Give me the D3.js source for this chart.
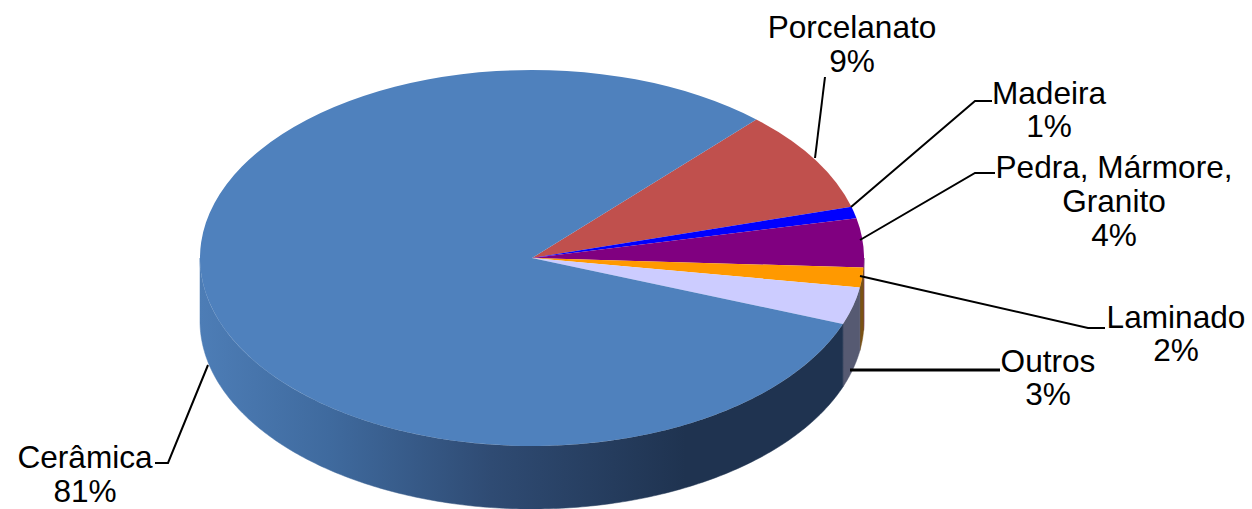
<!DOCTYPE html>
<html><head><meta charset="utf-8">
<script src="https://cdn.jsdelivr.net/npm/d3@7"></script>
<style>html,body{margin:0;padding:0;background:#fff}svg{display:block}</style>
</head><body><svg id="c" width="1252" height="509"></svg>
<script>
const categories = ["Porcelanato","Madeira","Pedra, Mármore, Granito","Laminado","Outros","Cerâmica"];
const values = [8.8,1.0,4.2,1.7,3.2,81.1];
const percentLabels = ["9%","1%","4%","2%","3%","81%"];
const topColors = ["#c0504d","#0000ff","#800080","#ff9900","#ccccff","#4f81bd"];
const wallColors = ["#7d3432","#0000a0","#520052","#7a5214","#565a72","url(#wall)"];
const labelLines = [["Porcelanato"],["Madeira"],["Pedra, Mármore,","Granito"],["Laminado"],["Outros"],["Cerâmica"]];
const labelX = [852,1049,1114,1176,1048,85];
const labelY = [38,104,178,328,372,468];
const lineHeights = [34,33,34,33,33,34];
const leaders = [
 [[815,158],[825,77]],
 [[851,207],[975,101],[992,101]],
 [[860,240],[975,173],[995,173]],
 [[860,276],[1088,328],[1105,328]],
 [[850,370],[1000,370]],
 [[208,365],[168,463],[155,463]]
];
const leaderWidths = [2,2,2,2,3,2];
const cx=532, cy=258, rx=332, ry=188, depth=63, startDeg=42.5, fontSize=31.6;

const svg=d3.select("#c");
const grad=svg.append("defs").append("linearGradient").attr("id","wall")
  .attr("gradientUnits","userSpaceOnUse").attr("x1",cx-rx).attr("x2",cx+rx*0.95).attr("y1",0).attr("y2",0);
[[0,"#4d7db6"],[0.2,"#3f6a9e"],[0.45,"#2f4b73"],[0.75,"#1f3350"],[1,"#1f3350"]]
  .forEach(s=>grad.append("stop").attr("offset",s[0]).attr("stop-color",s[1]));

const start=startDeg*Math.PI/180;
const pie=d3.pie().sort(null).value(d=>d).startAngle(start).endAngle(start+2*Math.PI);
const arcs=pie(values);
const px=a=>cx+rx*Math.sin(a), py=a=>cy-ry*Math.cos(a);

const clampA=[Math.PI/2,3*Math.PI/2];
const wallLine=d3.line();
const walls=[];
arcs.forEach((d,i)=>{
  let a0=Math.max(d.startAngle,clampA[0]), a1=Math.min(d.endAngle,clampA[1]);
  if(a1<=a0) return;
  const n=Math.max(2,Math.ceil((a1-a0)*80));
  const ang=d3.range(n+1).map(k=>a0+(a1-a0)*k/n);
  const pts=ang.map(a=>[px(a),py(a)]).concat(ang.slice().reverse().map(a=>[px(a),py(a)+depth]));
  walls.push({i,d:wallLine(pts)+"Z"});
});
svg.append("g").selectAll("path").data(walls).join("path")
  .attr("d",d=>d.d).attr("fill",d=>wallColors[d.i]).attr("stroke",d=>wallColors[d.i]).attr("stroke-width",0.5);

const arc=d3.arc().innerRadius(0).outerRadius(rx);
svg.append("g").attr("transform",`translate(${cx},${cy}) scale(1,${ry/rx})`)
  .selectAll("path").data(arcs).join("path")
  .attr("d",arc).attr("fill",(d,i)=>topColors[i]);

const line=d3.line();
svg.append("g").selectAll("path").data(leaders).join("path")
  .attr("d",d=>line(d)).attr("fill","none").attr("stroke","#000").attr("stroke-width",(d,i)=>leaderWidths[i]);

const lab=svg.append("g").attr("font-family","'Liberation Sans',Arial,sans-serif").attr("font-size",fontSize).attr("fill","#000").attr("text-anchor","middle");
categories.forEach((c,i)=>{
  const t=lab.append("text").attr("x",labelX[i]).attr("y",labelY[i]);
  labelLines[i].concat([percentLabels[i]]).forEach((s,k)=>{
    t.append("tspan").attr("x",labelX[i]).attr("dy",k?lineHeights[i]:0).text(s);
  });
});
</script></body></html>
